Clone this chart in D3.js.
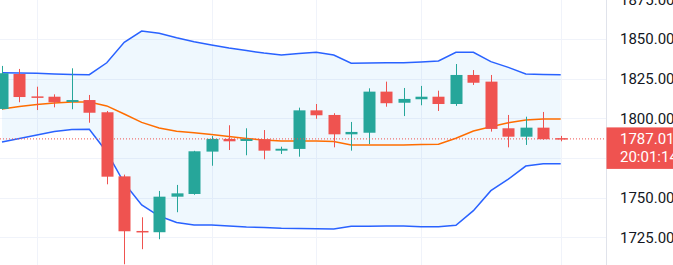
<!DOCTYPE html>
<html>
<head>
<meta charset="utf-8">
<script src="https://cdn.jsdelivr.net/npm/d3@7"></script>
<style>
    body { margin: 0; background: #ffffff; }
    svg { display: block; font-family: Roboto, sans-serif; }
</style>
</head>
<body>
<div id="chart"></div>
<script>
// Candles, oldest first (last one is the live bar)
var opens  = [1805.9, 1827.9, 1813.8, 1813.6, 1810.3, 1811.5, 1803.8, 1763.4, 1729.0, 1728.2, 1750.6, 1752.3, 1779.0, 1787.0, 1785.7, 1786.8, 1779.6, 1780.7, 1805.0, 1802.1, 1789.9, 1790.9, 1816.8, 1809.8, 1812.0, 1813.6, 1809.0, 1827.3, 1823.1, 1793.7, 1788.4, 1794.1, 1787.5];
var highs  = [1833.0, 1831.1, 1819.9, 1815.1, 1831.5, 1814.7, 1804.6, 1764.5, 1737.6, 1754.2, 1758.0, 1779.5, 1788.8, 1795.6, 1793.7, 1792.6, 1782.1, 1806.7, 1809.0, 1803.2, 1797.7, 1818.9, 1823.1, 1819.1, 1820.4, 1817.4, 1834.2, 1830.4, 1827.3, 1802.1, 1801.0, 1804.0, 1788.9];
var lows   = [1805.5, 1810.1, 1805.2, 1806.9, 1805.7, 1797.2, 1758.4, 1708.0, 1717.5, 1723.8, 1740.8, 1751.8, 1770.1, 1780.0, 1776.7, 1774.2, 1777.5, 1775.8, 1799.7, 1781.7, 1779.6, 1783.8, 1807.3, 1801.4, 1808.2, 1804.6, 1807.8, 1821.0, 1791.6, 1781.7, 1783.2, 1786.5, 1785.5];
var closes = [1828.4, 1813.4, 1813.4, 1810.1, 1811.5, 1803.5, 1763.2, 1728.8, 1728.8, 1750.6, 1752.7, 1779.2, 1787.0, 1785.5, 1787.0, 1779.6, 1780.8, 1805.0, 1801.9, 1789.9, 1791.4, 1816.8, 1809.5, 1812.2, 1813.6, 1809.0, 1827.3, 1822.4, 1793.3, 1788.4, 1794.1, 1786.8, 1787.01];

// Bollinger bands
var upperBand = [1828.7, 1828.5, 1828.4, 1827.9, 1827.6, 1827.5, 1835.0, 1847.9, 1855.0, 1853.6, 1850.8, 1848.3, 1846.2, 1844.3, 1842.7, 1841.1, 1839.9, 1840.8, 1841.6, 1839.9, 1834.7, 1834.8, 1835.0, 1835.0, 1835.5, 1836.1, 1841.6, 1841.6, 1835.7, 1832.1, 1827.9, 1827.6, 1827.5];
var basisBand = [1805.9, 1807.4, 1808.7, 1809.6, 1810.3, 1810.3, 1807.8, 1802.7, 1797.4, 1793.9, 1791.8, 1790.9, 1789.8, 1788.5, 1787.3, 1786.3, 1785.7, 1785.7, 1785.7, 1785.4, 1783.2, 1783.2, 1783.2, 1783.2, 1783.5, 1783.6, 1787.4, 1792.0, 1794.7, 1797.2, 1798.9, 1799.6, 1799.6];
var lowerBand = [1785.1, 1787.3, 1789.5, 1791.7, 1792.9, 1793.1, 1778.8, 1759.2, 1745.4, 1738.4, 1734.3, 1732.8, 1732.8, 1732.1, 1731.5, 1731.2, 1730.7, 1730.5, 1730.4, 1730.2, 1731.9, 1732.0, 1732.1, 1732.1, 1731.7, 1731.7, 1732.6, 1741.8, 1754.4, 1761.6, 1769.9, 1771.4, 1771.4];

// Price axis ticks and time grid positions (bar index)
var priceTicks = [1725, 1750, 1775, 1800, 1825, 1850, 1875];
var timeGrid = [2, 12, 18, 24, 32];

var lastPrice = 1787.01;
var countdown = "20:01:14";

var width, height, plotRight, svg, xScale, yScale, candles;

function drawGrid() {
    // horizontal grid
    svg.append("g")
        .selectAll("line")
        .data(priceTicks)
        .enter()
        .append("line")
        .attr("x1", 0)
        .attr("x2", plotRight)
        .attr("y1", function (d) { return Math.round(yScale(d)) + 0.5; })
        .attr("y2", function (d) { return Math.round(yScale(d)) + 0.5; })
        .attr("stroke", "#f0f3fa");

    // vertical grid
    svg.append("g")
        .selectAll("line")
        .data(timeGrid)
        .enter()
        .append("line")
        .attr("x1", function (d) { return Math.round(xScale(d)) + 0.5; })
        .attr("x2", function (d) { return Math.round(xScale(d)) + 0.5; })
        .attr("y1", 0)
        .attr("y2", height)
        .attr("stroke", "#f0f3fa");
}

function drawBands(plot) {
    var idx = d3.range(upperBand.length);

    var area = d3.area()
        .x(function (i) { return xScale(i); })
        .y0(function (i) { return yScale(lowerBand[i]); })
        .y1(function (i) { return yScale(upperBand[i]); });

    plot.append("path")
        .datum(idx)
        .attr("fill", "rgba(33,150,243,0.07)")
        .attr("d", area);

    var bandLine = function (values) {
        return d3.line()
            .x(function (i) { return xScale(i); })
            .y(function (i) { return yScale(values[i]); });
    };

    plot.append("path")
        .datum(idx)
        .attr("fill", "none")
        .attr("stroke", "#2962ff")
        .attr("stroke-width", 1.5)
        .attr("d", bandLine(upperBand));

    plot.append("path")
        .datum(idx)
        .attr("fill", "none")
        .attr("stroke", "#2962ff")
        .attr("stroke-width", 1.5)
        .attr("d", bandLine(lowerBand));

    plot.append("path")
        .datum(idx)
        .attr("fill", "none")
        .attr("stroke", "#ff6d00")
        .attr("stroke-width", 1.5)
        .attr("d", bandLine(basisBand));
}

function drawCandles(plot) {
    var bodyW = 12;
    var colour = function (d) { return d.close >= d.open ? "#26a69a" : "#ef5350"; };

    plot.append("g")
        .selectAll("line")
        .data(candles)
        .enter()
        .append("line")
        .attr("x1", function (d) { return Math.round(xScale(d.i)) + 0.5; })
        .attr("x2", function (d) { return Math.round(xScale(d.i)) + 0.5; })
        .attr("y1", function (d) { return yScale(d.high); })
        .attr("y2", function (d) { return yScale(d.low); })
        .attr("stroke", colour);

    plot.append("g")
        .selectAll("rect")
        .data(candles)
        .enter()
        .append("rect")
        .attr("x", function (d) { return Math.round(xScale(d.i)) + 0.5 - bodyW / 2; })
        .attr("width", bodyW)
        .attr("y", function (d) { return yScale(Math.max(d.open, d.close)); })
        .attr("height", function (d) {
            return Math.max(1.5, Math.abs(yScale(d.open) - yScale(d.close)));
        })
        .attr("fill", colour);
}

function drawPriceAxis() {
    var yp = yScale(lastPrice);
    var boxTop = yp - 11.5, boxH = 41.5;

    // last price dotted line
    svg.append("line")
        .attr("x1", 0)
        .attr("x2", plotRight)
        .attr("y1", yp)
        .attr("y2", yp)
        .attr("stroke", "#ef5350")
        .attr("stroke-width", 1)
        .attr("stroke-dasharray", "1,2");

    // axis border
    svg.append("line")
        .attr("x1", plotRight + 0.5)
        .attr("x2", plotRight + 0.5)
        .attr("y1", 0)
        .attr("y2", height)
        .attr("stroke", "#e0e3eb");

    // ticks hidden under the last price label are not drawn
    var shownTicks = priceTicks.filter(function (t) {
        var y = yScale(t);
        return y < boxTop - 6 || y > boxTop + boxH + 6;
    });

    var yAxis = d3.axisRight(yScale)
        .tickValues(shownTicks)
        .tickSize(0)
        .tickPadding(13.5)
        .tickFormat(d3.format(".2f"));

    var axisG = svg.append("g")
        .attr("transform", "translate(" + (plotRight + 0.5) + ",0)")
        .call(yAxis);
    axisG.select(".domain").remove();
    axisG.selectAll("text")
        .attr("fill", "#131722")
        .style("font-size", "15px")
        .style("font-family", "Roboto, sans-serif");

    // last price label
    svg.append("rect")
        .attr("x", plotRight + 0.5)
        .attr("y", boxTop)
        .attr("width", width - plotRight)
        .attr("height", boxH)
        .attr("fill", "#ef5350");

    svg.append("text")
        .attr("x", plotRight + 14)
        .attr("y", yp)
        .attr("dy", "0.36em")
        .attr("fill", "#ffffff")
        .style("font-size", "15px")
        .text(d3.format(".2f")(lastPrice));

    svg.append("text")
        .attr("x", plotRight + 14)
        .attr("y", yp + 18)
        .attr("dy", "0.36em")
        .attr("fill", "#ffffff")
        .style("font-size", "15px")
        .text(countdown);
}

function init() {
    width = 673;
    height = 265;
    plotRight = 606;

    candles = opens.map(function (o, i) {
        return { i: i, open: o, high: highs[i], low: lows[i], close: closes[i] };
    });

    xScale = d3.scaleLinear()
        .domain([0, candles.length - 1])
        .range([2, 560.7]);

    yScale = d3.scaleLinear()
        .domain([1725, 1850])
        .range([237.3, 38.95]);

    svg = d3.select("#chart")
        .append("svg")
        .attr("width", width)
        .attr("height", height);

    svg.append("rect")
        .attr("width", width)
        .attr("height", height)
        .attr("fill", "#ffffff");

    svg.append("clipPath")
        .attr("id", "plot-clip")
        .append("rect")
        .attr("width", plotRight)
        .attr("height", height);

    drawGrid();

    var plot = svg.append("g").attr("clip-path", "url(#plot-clip)");
    drawBands(plot);
    drawCandles(plot);

    drawPriceAxis();
}

window.onload = init;
</script>
</body>
</html>
